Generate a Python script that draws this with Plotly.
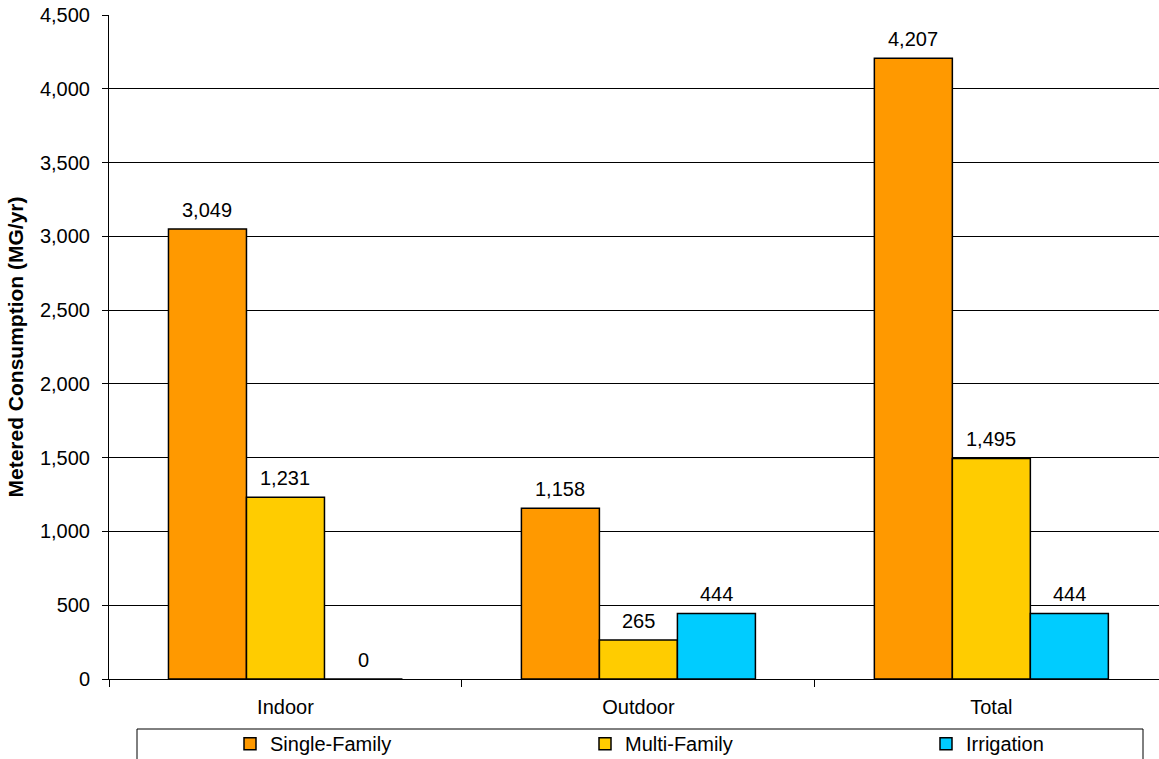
import plotly.graph_objects as go

# Metered consumption by use category (MG/yr)
categories = ["Indoor", "Outdoor", "Total"]
single_family = [3049, 1158, 4207]
multi_family = [1231, 265, 1495]
irrigation = [0, 444, 444]

series_names = ["Single-Family", "Multi-Family", "Irrigation"]
series_values = [single_family, multi_family, irrigation]
series_colors = ["#FF9900", "#FFCC00", "#00CCFF"]

y_ticks = list(range(0, 4501, 500))
y_tick_labels = [f"{v:,}" for v in y_ticks]

FONT = "Liberation Sans, Arial, sans-serif"
TEXT_SIZE = 20
BAR_GAP = 0.337

# Plot-area geometry in pixels, used to place the legend row
PLOT_LEFT, PLOT_W = 109, 1050
LEGEND_ITEM_X = [230, 585, 926]

legend_ids = ["legend", "legend2", "legend3"]

fig = go.Figure()
for name, vals, color, lid in zip(series_names, series_values, series_colors, legend_ids):
    fig.add_trace(go.Bar(
        name=name,
        x=categories,
        y=vals,
        legend=lid,
        marker=dict(color=color, line=dict(color="#000000", width=1.5)),
    ))

# Value labels above each bar, placed at the centre of its slot in the group
n_series = len(series_values)
slot = (1 - BAR_GAP) / n_series
for s, vals in enumerate(series_values):
    offset = (s - (n_series - 1) / 2) * slot
    for c, v in enumerate(vals):
        fig.add_annotation(
            x=c + offset, y=v, xref="x", yref="y",
            text=f"{v:,}", showarrow=False,
            yanchor="bottom", yshift=6,
            font=dict(family=FONT, size=TEXT_SIZE, color="#000000"),
        )

legend_style = dict(
    orientation="h",
    xanchor="left",
    y=-0.068,
    yanchor="top",
    itemwidth=30,
    font=dict(family=FONT, size=TEXT_SIZE, color="#000000"),
    bgcolor="rgba(0,0,0,0)",
    borderwidth=0,
)

fig.update_layout(
    width=1159,
    height=759,
    margin=dict(l=109, r=0, t=15, b=80, autoexpand=False),
    paper_bgcolor="white",
    plot_bgcolor="white",
    barmode="group",
    bargap=BAR_GAP,
    bargroupgap=0,
    font=dict(family=FONT, size=TEXT_SIZE, color="#000000"),
    showlegend=True,
    legend=dict(x=(LEGEND_ITEM_X[0] - PLOT_LEFT) / PLOT_W, **legend_style),
    legend2=dict(x=(LEGEND_ITEM_X[1] - PLOT_LEFT) / PLOT_W, **legend_style),
    legend3=dict(x=(LEGEND_ITEM_X[2] - PLOT_LEFT) / PLOT_W, **legend_style),
)

# Legend frame, open at the bottom edge of the page
fig.add_shape(
    type="rect", xref="paper", yref="paper",
    x0=(137 - PLOT_LEFT) / PLOT_W, x1=(1143 - PLOT_LEFT) / PLOT_W,
    y0=-0.14, y1=(679 - 729) / 664,
    line=dict(color="#000000", width=1),
    fillcolor="rgba(0,0,0,0)",
    layer="below",
)

fig.update_xaxes(
    type="category",
    range=[-0.5, 2.475],
    showline=True,
    linecolor="#000000",
    linewidth=1,
    ticks="outside",
    tickson="boundaries",
    ticklen=7,
    tickcolor="#000000",
    ticklabelstandoff=10,
    tickfont=dict(family=FONT, size=TEXT_SIZE, color="#000000"),
    showgrid=False,
)

fig.update_yaxes(
    range=[0, 4500],
    tickvals=y_ticks,
    ticktext=y_tick_labels,
    showline=True,
    linecolor="#000000",
    linewidth=1,
    ticks="outside",
    ticklen=6,
    tickcolor="#000000",
    ticklabelstandoff=8,
    tickfont=dict(family=FONT, size=TEXT_SIZE, color="#000000"),
    showgrid=True,
    gridcolor="#000000",
    gridwidth=1,
    zeroline=False,
    title=dict(
        text="<b>Metered Consumption (MG/yr)</b>",
        font=dict(family=FONT, size=21, color="#000000"),
        standoff=10,
    ),
)

fig.write_html("out.html")
